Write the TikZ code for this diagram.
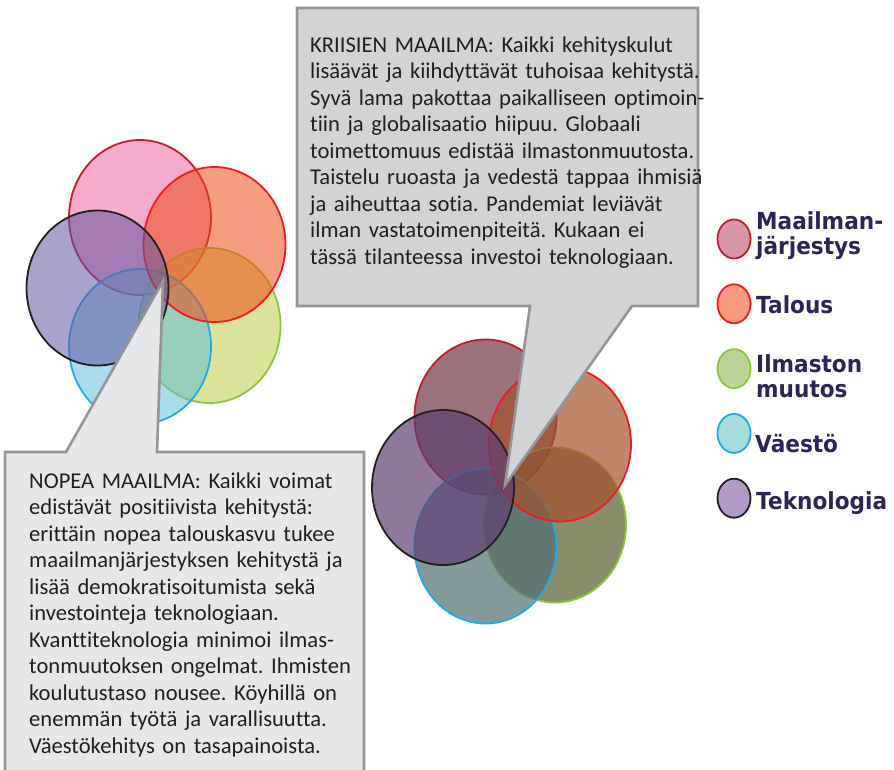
\documentclass[tikz,border=0pt]{standalone}
\usepackage{fontspec}
\setmainfont{Carlito}[Ligatures=NoCommon]
\newfontfamily\legendfont[FakeStretch=0.92]{DejaVu Sans}
\usepackage{xcolor}
\usetikzlibrary{shapes.geometric,positioning}
\frenchspacing
\definecolor{mjline}{HTML}{BE1E2D}
\definecolor{taline}{HTML}{ED1C24}
\definecolor{illine}{HTML}{8CC63F}
\definecolor{valine}{HTML}{27AAE1}
\definecolor{teline}{HTML}{231F20}
\definecolor{mjlight}{HTML}{EB66A2}
\definecolor{talight}{HTML}{ED4D16}
\definecolor{illight}{HTML}{BECC47}
\definecolor{valight}{HTML}{61BFD9}
\definecolor{telight}{HTML}{6356A2}
\definecolor{mjdark}{HTML}{703644}
\definecolor{tadark}{HTML}{A5522D}
\definecolor{ildark}{HTML}{585B30}
\definecolor{vadark}{HTML}{4F6F73}
\definecolor{tedark}{HTML}{5F3E70}
\definecolor{mjkey}{HTML}{D895A8}
\definecolor{takey}{HTML}{F59B7C}
\definecolor{ilkey}{HTML}{BAD397}
\definecolor{vakey}{HTML}{A6DCDC}
\definecolor{tekey}{HTML}{B39BC8}
\definecolor{calloutline}{HTML}{939598}
\definecolor{topfill}{HTML}{D1D3D4}
\definecolor{botfill}{HTML}{E6E7E8}
\definecolor{bodytext}{HTML}{231F20}
\definecolor{legendtext}{HTML}{2B2557}
\tikzset{
  sk venn/.style={ellipse, draw, line width=1.8pt, minimum width=142pt, minimum height=155pt, inner sep=0pt},
  sk light/.style={sk venn, fill opacity=0.55},
  sk dark/.style={sk venn, fill opacity=0.7},
  sk key/.style={ellipse, draw, line width=1.8pt, minimum width=33pt, minimum height=39pt, inner sep=0pt},
  sk key text/.style={anchor=base west, inner sep=0pt, text width=140pt, align=left, text=legendtext, font=\legendfont\bfseries\fontsize{23.5}{25}\selectfont},
  sk callout/.style={draw=calloutline, line width=2.6pt, line join=miter},
  sk body/.style={anchor=base west, inner sep=0pt, text width=400pt, align=left, text=bodytext, font=\fontsize{22.6}{26.5}\selectfont}
}
\begin{document}
\begin{tikzpicture}[x=1pt, y=-1pt]
    \useasboundingbox (0,0) rectangle (894,769);
    \clip (0,0) rectangle (894,769);

    % Light circles (fast world)
    \node [sk light, draw=mjline, fill=mjlight] (L-mj) at (140,217.5) {};
    \node [sk light, draw=illine, fill=illight] (L-il) at (209.5,325.5) {};
    \node [sk light, draw=valine, fill=valight] (L-va) at (140,346.5) {};
    \node [sk light, draw=taline, fill=talight] (L-ta) at (214.5,244.5) {};
    \node [sk light, draw=teline, fill=telight] (L-te) at (97.5,288) {};

    % Dark circles (crisis world)
    \begin{scope}[shift={(345.5,199.5)}]
    \node [sk dark, draw=mjline, fill=mjdark] (R-mj) at (140,217.5) {};
    \node [sk dark, draw=illine, fill=ildark] (R-il) at (209.5,325.5) {};
    \node [sk dark, draw=valine, fill=vadark] (R-va) at (140,346.5) {};
    \node [sk dark, draw=taline, fill=tadark] (R-ta) at (214.5,244.5) {};
    \node [sk dark, draw=teline, fill=tedark] (R-te) at (97.5,288) {};
    \end{scope}

    % Callouts
    \coordinate (crisis tip) at (505,485);
    \coordinate (fast tip) at (163,281);
    \path [sk callout, fill=topfill] (297,8) -- (698,8) -- (698,306) -- (632,306)
        -- (crisis tip) -- (530,306) -- (297,306) -- cycle;
    \path [sk callout, fill=botfill] (5,452) -- (66,452) -- (fast tip) -- (157,452)
        -- (364,452) -- (364,790) -- (5,790) -- cycle;

    \node [sk body] (crisis) at (310,52) {KRIISIEN MAAILMA: Kaikki kehityskulut\\
        lisäävät ja kiihdyttävät tuhoisaa kehitystä.\\
        Syvä lama pakottaa paikalliseen optimoin-\\
        tiin ja globalisaatio hiipuu. Globaali\\
        toimettomuus edistää ilmastonmuutosta.\\
        Taistelu ruoasta ja vedestä tappaa ihmisiä\\
        ja aiheuttaa sotia. Pandemiat leviävät\\
        ilman vastatoimenpiteitä. Kukaan ei\\
        tässä tilanteessa investoi teknologiaan.};
    \node [sk body, text width=340pt] (fast) at (29,488) {NOPEA MAAILMA: Kaikki voimat\\
        edistävät positiivista kehitystä:\\
        erittäin nopea talouskasvu tukee\\
        maailmanjärjestyksen kehitystä ja\\
        lisää demokratisoitumista sekä\\
        investointeja teknologiaan.\\
        Kvanttiteknologia minimoi ilmas-\\
        tonmuutoksen ongelmat. Ihmisten\\
        koulutustaso nousee. Köyhillä on\\
        enemmän työtä ja varallisuutta.\\
        Väestökehitys on tasapainoista.};

    % Legend
    \node [sk key, draw=mjline, fill=mjkey] (key-mj) at (734,239) {};
    \node [sk key, draw=taline, fill=takey, below=24pt of key-mj] (key-ta) {};
    \node [sk key, draw=illine, fill=ilkey, below=24pt of key-ta] (key-il) {};
    \node [sk key, draw=valine, fill=vakey, below=24pt of key-il] (key-va) {};
    \node [sk key, draw=teline, fill=tekey, below=24pt of key-va] (key-te) {};

    \node [sk key text] (lab-mj) at (756,229) {Maailman-\\järjestys};
    \node [sk key text] (lab-ta) at (756,313) {Talous};
    \node [sk key text] (lab-il) at (756,372) {Ilmaston\\muutos};
    \node [sk key text] (lab-va) at (755,452) {Väestö};
    \node [sk key text] (lab-te) at (756,509) {Teknologia};
\end{tikzpicture}
\end{document}
